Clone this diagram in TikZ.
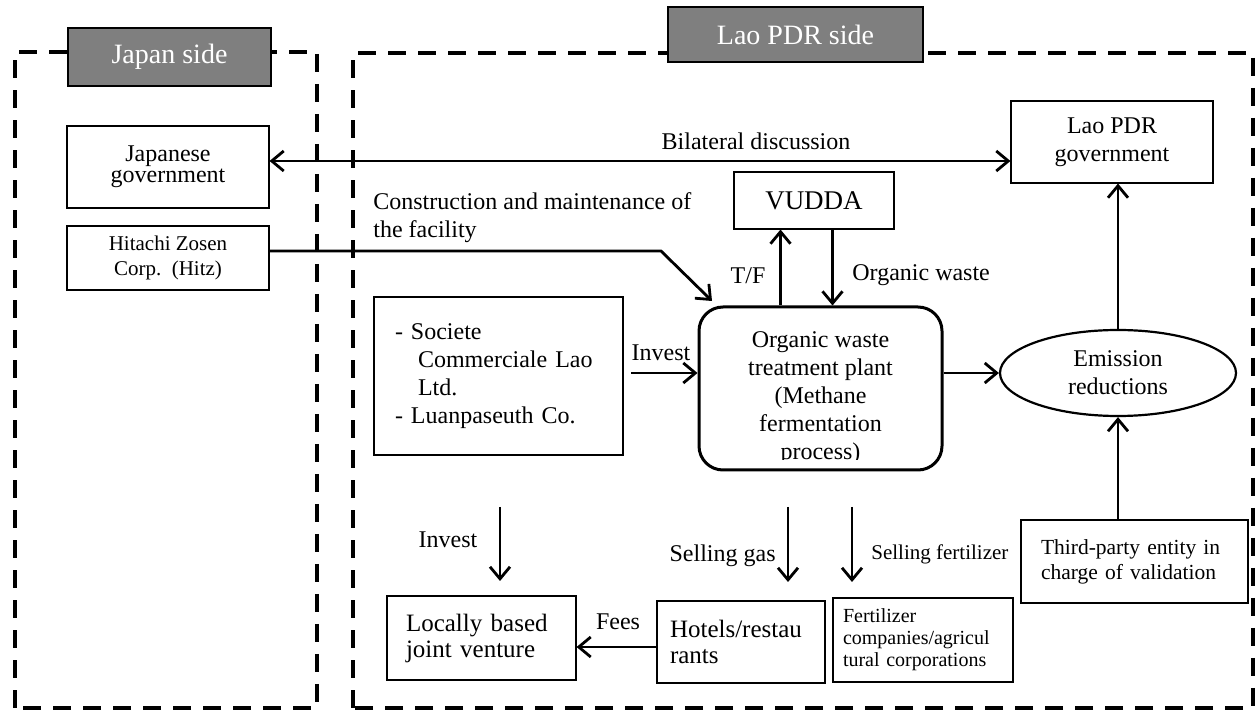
\documentclass[tikz,border=0pt]{standalone}
\usepackage{fontspec}
\setmainfont{Liberation Serif}
\usetikzlibrary{arrows.meta,shapes.geometric}
\definecolor{sidegray}{HTML}{7F7F7F}
\begin{document}
\begin{tikzpicture}[x=0.5pt,y=-0.5pt,
  box/.style={draw, line width=0.55pt, inner sep=0pt, align=center},
  sidebox/.style={draw, line width=0.6pt, fill=sidegray, text=white, inner sep=0pt,
    font=\fontsize{14}{16}\selectfont},
  lab/.style={inner sep=0pt, font=\fontsize{12}{14}\selectfont},
  arr/.style={line width=1.4pt, -{Straight Barb[length=6pt,width=10pt,line width=1.4pt]}},
  darr/.style={line width=1.4pt, {Straight Barb[length=6pt,width=10pt,line width=1.4pt]}-{Straight Barb[length=6pt,width=10pt,line width=1.4pt]}},
  dashbox/.style={line width=2pt, dash pattern=on 9pt off 6pt}
]
\useasboundingbox (0,0) rectangle (1259,710);
% dashed side frames
\draw[dashbox] (15,708) -- (15,52) -- (317,52) -- (317,708) -- cycle;
\draw[dashbox] (353,708) -- (353,53) -- (1253,53) -- (1253,708) -- cycle;
% side labels
\node[sidebox, minimum width=101.5pt, minimum height=29pt] (japside) at (169.5,57) {Japan side};
\node[sidebox, minimum width=127.5pt, minimum height=27.5pt] (laoside) at (795.5,34.5) {Lao PDR side};
% boxes
\node[box, minimum width=101pt, minimum height=41pt, font=\fontsize{12}{10.5}\selectfont] (jgov) at (168,167) {Japanese\\government};
\node[box, minimum width=101pt, minimum height=32pt, font=\fontsize{10.5}{12.5}\selectfont] (hitz) at (168,258) {Hitachi Zosen\\Corp.~~(Hitz)};
\node[box, minimum width=101pt, minimum height=41pt, font=\fontsize{12}{14}\selectfont] (lgov) at (1112,142) {Lao PDR\\government};
\node[box, minimum width=80pt, minimum height=28.5pt, font=\fontsize{13.5}{16}\selectfont] (vudda) at (814,200.5) {VUDDA};
\node[box, align=left, text width=103.5pt, inner xsep=10.5pt, minimum height=79pt, font=\fontsize{12}{14}\selectfont] (soc) at (498.5,376)
  {- Societe\\\hspace*{11.5pt}Commerciale Lao\\\hspace*{11.5pt}Ltd.\\- Luanpaseuth Co.};
\node[draw, line width=1.5pt, rounded corners=12pt, inner sep=0pt, minimum width=121.5pt, minimum height=81.5pt] (plant) at (820.5,388.5) {};
\begin{scope}
  \clip (699,300) rectangle (942,460);
  \node[inner sep=0pt, align=center, font=\fontsize{12}{14}\selectfont] (planttext) at (820.5,398)
    {Organic waste\\treatment plant\\(Methane\\fermentation\\process)};
\end{scope}
\node[draw, ellipse, line width=1.1pt, inner sep=0pt, align=center, minimum width=118pt, minimum height=43pt, font=\fontsize{12}{14}\selectfont] (emis) at (1118,373) {Emission\\reductions};
\node[box, align=left, text width=93.5pt, inner xsep=10pt, minimum height=41.5pt, font=\fontsize{10.75}{12.5}\selectfont] (third) at (1134.5,561.5)
  {\makebox[\linewidth][s]{Third-party entity in}\\charge of validation};
\node[box, align=left, text width=75.5pt, inner xsep=9.5pt, minimum height=42pt, font=\fontsize{12.5}{13}\selectfont] (locally) at (481.5,638) {Locally based\\joint venture};
\node[box, align=left, text width=71pt, inner xsep=6.5pt, minimum height=41pt, font=\fontsize{12.5}{13}\selectfont] (hotels) at (741,642) {Hotels/restau\\rants};
\node[box, align=left, text width=80pt, inner xsep=5pt, minimum height=42pt, font=\fontsize{10}{11}\selectfont] (fert) at (923,640) {Fertilizer\\companies/agricul\\tural corporations};
% labels
\node[lab] (lbil) at (756,141) {Bilateral discussion};
\node[lab, anchor=north west, align=left] (lcon) at (373,192) {Construction and maintenance of\\the facility};
\node[lab] (ltf) at (748,276) {T/F};
\node[lab, anchor=west] (low) at (852,275) {Organic waste};
\node[lab] (linv1) at (661,353) {Invest};
\node[lab] (linv2) at (448,540) {Invest};
\node[lab, anchor=east] (lgas) at (776,556) {Selling gas};
\node[lab, anchor=west, font=\fontsize{10.5}{12}\selectfont] (lfer) at (871,554) {Selling fertilizer};
\node[lab] (lfees) at (618,622) {Fees};
% coordinates
\coordinate (hitzbend) at (661,251);
\coordinate (hitzend) at (712,301);
\coordinate (invS) at (631,373);
\coordinate (inv2S) at (500,507);
\coordinate (inv2E) at (500,581);
\coordinate (gasS) at (788,507);
\coordinate (gasE) at (788,582);
\coordinate (ferS) at (852,507);
\coordinate (ferE) at (852,582);
% connectors
\draw[darr] ([yshift=3pt]jgov.east) -- ([yshift=3pt]jgov.east -| lgov.west);
\draw[arr] ([yshift=3.5pt]hitz.east) -- ([yshift=3.5pt]hitz.east -| hitzbend) -- (hitzend);
\draw[arr] ([xshift=-20pt]plant.north) -- ([xshift=-20pt]plant.north |- vudda.south);
\draw[arr] ([xshift=6pt]plant.north |- vudda.south) -- ([xshift=6pt]plant.north);
\draw[arr] (invS) -- (invS -| plant.west);
\draw[arr] (plant.east |- emis.west) -- (emis.west);
\draw[arr] (emis.north) -- (emis.north |- lgov.south);
\draw[arr] (third.north -| emis.south) -- (emis.south);
\draw[arr] (inv2S) -- (inv2E);
\draw[arr] (gasS) -- (gasE);
\draw[arr] (ferS) -- (ferE);
\draw[arr] ([yshift=-2.5pt]hotels.west) -- ([yshift=-2.5pt]hotels.west -| locally.east);
\end{tikzpicture}
\end{document}
